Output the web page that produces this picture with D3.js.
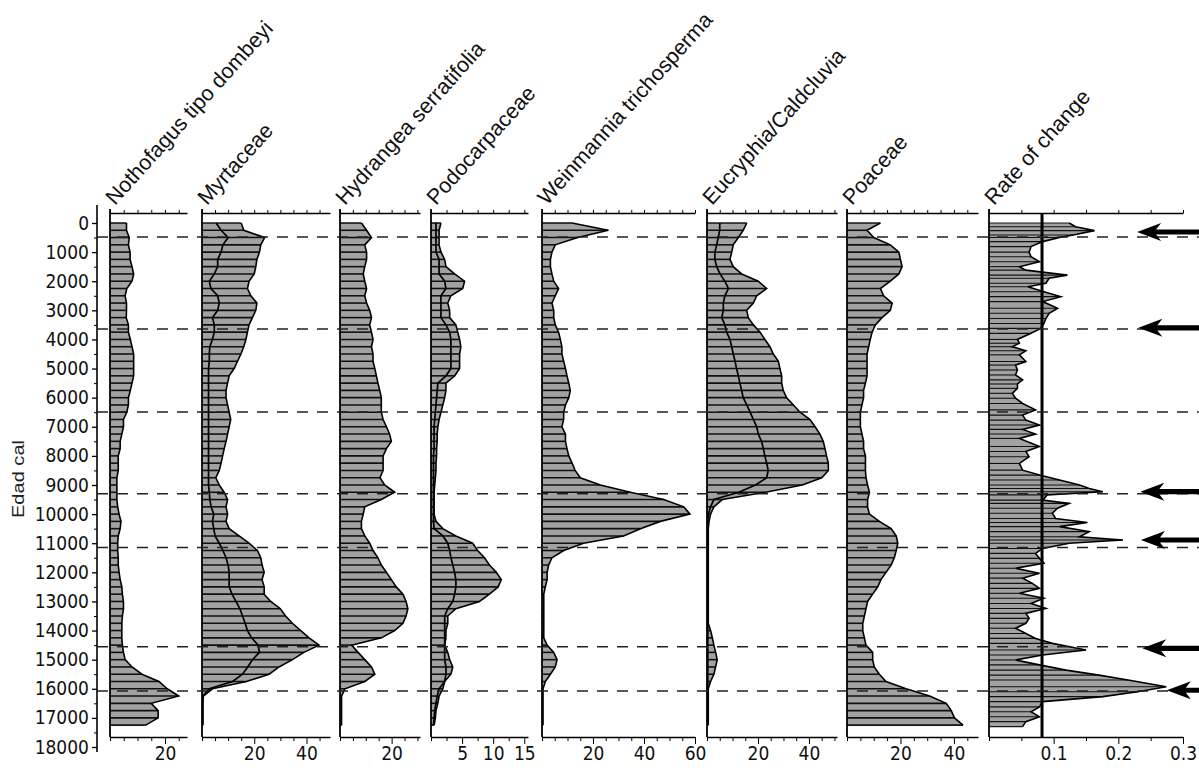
<!DOCTYPE html>
<html><head><meta charset="utf-8">
<script src="https://cdn.jsdelivr.net/npm/d3@7"></script>
<style>body{margin:0;background:#fff;} svg{display:block;background:#fff;}</style>
</head><body>
<svg id="c" width="1199" height="770"></svg>
<script>
// ---------------- DATA ----------------
const titles = ["Nothofagus tipo dombeyi","Myrtaceae","Hydrangea serratifolia","Podocarpaceae",
  "Weinmannia trichosperma","Eucryphia/Caldcluvia","Poaceae","Rate of change"];
const yAxisTitle = "Edad cal";
const yTicks = [0,1000,2000,3000,4000,5000,6000,7000,8000,9000,10000,11000,12000,13000,14000,15000,16000,17000,18000];

const ages = [0,250,500,750,1000,1250,1500,1750,2000,2250,
  2500,2750,3000,3250,3500,3750,4000,4250,4500,4750,
  5000,5250,5500,5750,6000,6250,6500,6750,7000,7250,
  7500,7750,8000,8250,8500,8750,9000,9250,9500,9750,
  10000,10250,10500,10750,11000,11250,11500,11750,12000,12250,
  12500,12750,13000,13250,13500,13750,14000,14250,14500,14750,
  15000,15250,15500,15750,16000,16250,16500,16750,17000,17250];

const nothofagus = [6,6,7,6.7,7.3,7.3,8,8.6,8,6.1,
  5.5,6,6,5.9,6.7,6.7,7.4,8,8.6,8.6,
  8.6,8.6,8,7.4,6.7,6.7,6.1,4.9,4.9,4.3,
  3.7,3.7,3,3,3,2.5,2.5,2.5,2.5,2.8,
  3.3,4,3.7,3,2.8,2.8,3,3,3.3,3.7,
  4.3,4.5,4.9,4.9,4.5,4.3,4.3,4.3,4.5,4.9,
  5.5,8,11.6,17.8,20.8,25,15,17.5,17.5,13];

const myrtaceae = [15,16,24,22.5,22,21,20.6,20,18,17.4,
  18.7,21,20.6,19.3,18,17.4,16.8,16,14.9,13.6,
  12.3,10.4,9.8,9.2,9.2,9.8,10.4,11,10.4,9.8,
  9.2,8.5,7.9,7.3,6.6,5.3,6.6,8.5,9.8,9.2,
  9.8,9.2,10.4,14.2,18,21.2,22.5,23,23.8,23,
  23.8,23.8,26.3,30,32,34.6,37.8,41,44.8,39,
  34.6,29.5,25.7,17,4,0.5,0.3,0.3,0.3,0.3];
const myrtaceaeLine = [5.4,7.3,10,8,7.3,6,6,4.7,2.8,3.4,
  6,6.6,6,4,4.7,4.7,4,3,2.8,2.8,
  2.5,2.5,2.5,2.5,2.5,2.5,2.5,2.5,2.5,2.5,
  2.5,2.5,2.5,2.5,2.5,2.5,2.5,2.8,3,3.5,
  4.5,4,4.5,5,6.6,8,9.2,10,10.4,10.4,
  10.4,11.5,13,14.5,15.5,16.5,17.4,19,21.5,22,
  19.3,17.5,15.5,11.7,2.8,0.3,0.3,0.3,0.3,0.3];

const hydrangea = [8.3,10.3,12.2,9.6,10.3,10.3,9.6,9,9.6,10.3,
  9.6,10.3,11.5,12.2,11.5,12.2,12.8,12.2,12.8,12.8,
  13.5,14.1,14.7,15.4,16,16,16,16.7,18,19.2,
  19.9,18,16.7,16.7,16.7,15.5,17.3,21.2,16,9.6,
  9,8.3,8.3,9.6,11.5,12.8,14.7,16,18,19.9,
  21.8,24.4,25.6,26.3,25.6,24.4,21.2,16,4.5,7,
  9.6,12.2,13.5,9.6,1.9,0.6,0.6,0.6,0.6,0.6];

const podocarpaceae = [1.6,1.3,1.3,1.3,1.6,2.2,2.4,3.8,5.4,5.1,
  3.2,2.7,3,3,4,4.3,4.6,4.8,4.6,4.6,
  4.6,3.8,2.4,2.4,2.2,1.9,1.6,1.3,1.1,1,
  1,0.9,0.9,0.8,0.8,0.7,0.6,0.5,0.5,0.5,
  0.5,0.8,1.9,4,6.7,7.5,8.6,9.4,10.5,11.3,
  10.8,9.4,7.8,4,2.7,2.7,2.4,2.4,2.2,2.7,
  3,3.5,3.2,2.2,1.9,1.3,1.1,0.8,0.7,0.5];
const podocarpaceaeLine = [0.8,0.8,0.8,0.8,0.8,1.3,1.3,1.3,2.2,2.4,
  1.6,1.6,1.6,1.6,2.4,3,3.2,3.2,3.2,3.2,
  3.2,2.4,1.1,1,0.9,0.8,0.7,0.6,0.5,0.5,
  0.5,0.5,0.4,0.4,0.4,0.4,0.4,0.4,0.4,0.4,
  0.4,0.4,0.5,1.9,2.7,3,3.2,3.5,3.8,4,
  4,3.8,3.5,2.7,2.2,2.2,2.2,2.2,2.2,2.2,
  2.2,2.4,2.4,2.2,1.3,1,0.8,0.6,0.5,0.4];

const weinmannia = [11.8,26,14,5.2,3.9,3.3,3.3,3.9,4.6,6.5,
  5.2,3.9,4.6,4.6,5.2,6.5,7.2,7.8,7.8,8.5,
  9.2,9.8,10.5,11.1,10.5,9.2,8.5,8.5,7.8,9.2,
  9.2,9.8,10.5,11.8,13,15,22.9,34.6,47.7,55.6,
  58,46.4,38.6,32,16.3,8.5,3.9,2.6,2,2,
  1.3,0.7,0.7,0.7,0.7,0.7,0.7,0.7,2,4.6,
  5.9,5.2,3.3,1.3,0.4,0.4,0.4,0.4,0.4,0.4];

const eucryphia = [15.6,14.2,12.3,10.3,9.7,9,10.3,13.6,20.1,23.4,
  19.5,18.2,15.6,16.2,18.2,20.8,22.7,24.7,26,28,
  28.6,29.3,29.3,29.9,31.2,33.9,36.5,40.4,42.4,44.3,
  45.6,46.3,46.9,47.6,47.6,45,37.4,23,6,2.7,
  1.4,0.8,0.5,0.5,0.5,0.5,0.5,0.5,0.5,0.5,
  0.5,0.5,0.5,0.5,0.5,0.5,1.4,2.1,2.7,3.4,
  4,3.4,2.7,1.4,0.5,0.5,0.5,0.5,0.5,0.5];
const eucryphiaLine = [5,5,4.4,3.8,3.1,3.1,3.8,5.1,7,8.4,
  7,6.4,6.4,5.8,7,7.7,9,9.7,10.3,11,
  11.6,12.3,12.9,13.6,14.2,15.6,16.9,18.2,19.5,20.1,
  21.4,22.1,22.7,23.4,24,23.4,19,12.5,2.7,1.4,
  0.5,0.3,0.3,0.3,0.3,0.3,0.3,0.3,0.3,0.3,
  0.3,0.3,0.3,0.3,0.3,0.3,0.3,0.3,0.3,0.3,
  0.3,0.3,0.3,0.3,0.3,0.3,0.3,0.3,0.3,0.3];

const poaceae = [12.5,7.5,10,16.2,19.4,20,20.6,19.4,16.2,12.5,
  13.7,16.9,16.2,13.1,10.6,9.4,8.7,8.1,7.5,7.5,
  7.5,7.5,6.9,6.2,6.2,5.6,5,5,5,5.6,
  6.2,6.2,6.9,6.9,6.9,7.1,7.7,8.4,7.7,7.7,
  8.4,12.1,16.5,18.4,19,18.4,17.7,16.5,14.6,12.7,
  11.5,9.6,7.7,7.1,6.5,5.9,5.9,6.5,7.1,9.6,
  9.6,10.2,12.1,14.6,22.1,30.9,37.1,39,40.2,43.4];

const rocAges = [0,130,263,410,500,640,810,1000,1160,1330,1500,1620,1790,1900,2070,2190,2360,2530,2700,2930,
  3100,3280,3450,3620,3790,4000,4130,4250,4390,4530,4760,4880,5050,5220,5390,5530,5680,5850,6020,6200,
  6420,6600,6770,6940,7090,7250,7400,7680,7850,8030,8260,8490,8660,8830,9000,9120,9230,9340,9520,9630,
  9800,9970,10150,10290,10430,10600,10780,10890,11000,11180,11350,11520,11690,11860,12030,12200,12380,12550,12720,12890,
  13070,13240,13410,13580,13750,13920,14100,14270,14440,14670,14840,15010,15180,15360,15530,15700,15930,16100,16270,16440,
  16620,16790,16960,17130,17300];
const rocValues = [0.124,0.134,0.163,0.13,0.109,0.083,0.065,0.062,0.065,0.078,0.047,0.057,0.121,0.093,0.088,0.060,0.085,0.111,0.083,0.106,
  0.093,0.088,0.085,0.080,0.065,0.044,0.047,0.036,0.057,0.047,0.057,0.041,0.044,0.041,0.052,0.044,0.044,0.036,0.041,0.052,
  0.072,0.052,0.057,0.078,0.052,0.072,0.047,0.078,0.057,0.062,0.047,0.052,0.078,0.109,0.140,0.155,0.176,0.090,0.083,0.124,
  0.106,0.098,0.103,0.152,0.109,0.155,0.140,0.207,0.124,0.083,0.072,0.078,0.085,0.041,0.078,0.052,0.067,0.078,0.047,0.085,
  0.065,0.088,0.057,0.062,0.057,0.041,0.057,0.072,0.098,0.150,0.083,0.041,0.078,0.119,0.170,0.215,0.274,0.230,0.176,0.083,
  0.078,0.065,0.078,0.057,0.052];
const rocThreshold = 0.082;

const zoneAges = [480,3640,6490,9300,11150,14560,16080];
const arrowAges = [310,3600,9230,10890,14610,16050];
const arrowTips = [0.229,0.231,0.234,0.235,0.237,0.275];

const bottomLabels = [[20],[20,40],[20],[5,10,15],[20,40,60],[20,40],[20,40],[0.1,0.2,0.3]];

// ---------------- LAYOUT ----------------
const svg = d3.select("#c");
const TOP = 213, BOT = 737;
const y = d3.scaleLinear().domain([0,18000]).range([223,747]);
const NARROW = "'Liberation Sans Narrow','DejaVu Sans Condensed','Liberation Sans',sans-serif";
const SANS = "'Liberation Sans','DejaVu Sans',sans-serif";

const panels = [
  {vals:nothofagus, line:null, x0:110, w:77, max:28, step:5},
  {vals:myrtaceae, line:myrtaceaeLine, x0:202, w:128, max:49, step:5},
  {vals:hydrangea, line:null, x0:340, w:80, max:31, step:5},
  {vals:podocarpaceae, line:podocarpaceaeLine, x0:431, w:97, max:15.6, step:2.5},
  {vals:weinmannia, line:null, x0:542, w:153, max:60, step:5},
  {vals:eucryphia, line:eucryphiaLine, x0:707, w:130, max:51, step:5},
  {vals:poaceae, line:null, x0:847, w:131, max:49, step:5},
  {vals:rocValues, ages:rocAges, line:null, x0:989, w:194, max:0.3, step:0.05, roc:true}
];

// Y axis
const ya = svg.append("g");
ya.append("line").attr("x1",97).attr("x2",97).attr("y1",205).attr("y2",752)
  .attr("stroke","#000").attr("stroke-width",1.6);
const yAx = d3.axisLeft(y).tickValues(yTicks).tickSize(5).tickFormat(d=>String(d));
const yg = ya.append("g").attr("transform","translate(97,0)").call(yAx);
yg.select(".domain").remove();
yg.selectAll(".tick line").attr("stroke","#000").attr("stroke-width",1.3);
yg.selectAll(".tick text").attr("x",-8).attr("font-family",NARROW).attr("font-size",19).attr("fill","#111");
const yMinor = d3.axisLeft(y).tickValues(yTicks.slice(0,-1).map(t=>t+500)).tickSize(3).tickFormat("");
const ym = ya.append("g").attr("transform","translate(97,0)").call(yMinor);
ym.select(".domain").remove();
ym.selectAll(".tick line").attr("stroke","#000");

svg.append("text").attr("transform","translate(24,479) rotate(-90)")
  .attr("text-anchor","middle").attr("font-family",SANS).attr("font-size",17)
  .attr("textLength",78).attr("lengthAdjust","spacingAndGlyphs").attr("fill","#222").text(yAxisTitle);

// Panels
panels.forEach((p,i)=>{
  const g = svg.append("g");
  const x = d3.scaleLinear().domain([0,p.max]).range([p.x0,p.x0+p.w]);
  const ag = p.ages || ages;
  const data = ag.map((a,k)=>({a:a, v:p.vals[k]}));
  const area = d3.area().y(d=>y(d.a)).x0(p.x0).x1(d=>x(d.v));
  g.append("path").datum(data).attr("d",area).attr("fill","#a2a2a2");
  g.selectAll("line.bar").data(data).enter().append("line").attr("class","bar")
    .attr("x1",p.x0).attr("x2",d=>x(d.v)).attr("y1",d=>y(d.a)).attr("y2",d=>y(d.a))
    .attr("stroke","#000").attr("stroke-width",p.roc?1.1:1.6).attr("stroke-opacity",0.9);
  const ln = d3.line().y(d=>y(d.a)).x(d=>x(d.v));
  g.append("path").datum(data).attr("d",ln).attr("fill","none").attr("stroke","#000").attr("stroke-width",1.6);
  if (p.line) {
    const d2 = ag.map((a,k)=>({a:a, v:p.line[k]}));
    g.append("path").datum(d2).attr("d",ln).attr("fill","none").attr("stroke","#000").attr("stroke-width",1.7);
  }
  // baseline
  g.append("line").attr("x1",p.x0).attr("x2",p.x0).attr("y1",TOP-4).attr("y2",BOT)
    .attr("stroke","#000").attr("stroke-width",1.8);
  const minor = d3.range(0, p.max + 1e-9, p.step);
  // top axis
  const tg = g.append("g").attr("transform",`translate(0,${TOP})`)
    .call(d3.axisTop(x).tickValues(minor).tickSize(3).tickSizeOuter(0).tickFormat(""));
  tg.select(".domain").attr("stroke","#000").attr("stroke-width",1.6);
  tg.selectAll(".tick line").attr("stroke","#000");
  // bottom axis
  const labs = bottomLabels[i];
  const bg = g.append("g").attr("transform",`translate(0,${BOT})`)
    .call(d3.axisBottom(x).tickValues(minor).tickSize(4).tickSizeOuter(0)
      .tickFormat(d=> labs.some(l=>Math.abs(l-d)<1e-9) ? (p.roc? d3.format(".1f")(d) : String(Math.round(d))) : ""));
  bg.select(".domain").attr("stroke","#000").attr("stroke-width",1.6);
  bg.selectAll(".tick line").attr("stroke","#000")
    .attr("y2", d=> labs.some(l=>Math.abs(l-d)<1e-9) ? 7 : 4);
  bg.selectAll(".tick text").attr("font-family",NARROW).attr("font-size",19).attr("fill","#111").attr("y",10);
  // title
  g.append("text").attr("transform",`translate(${p.x0+5},206) rotate(-48)`)
    .attr("font-family",SANS).attr("font-size",21.5).attr("fill","#111")
    .text(titles[i]);
  if (p.roc) {
    g.append("line").attr("x1",x(rocThreshold)).attr("x2",x(rocThreshold)).attr("y1",TOP).attr("y2",BOT)
      .attr("stroke","#000").attr("stroke-width",3);
    p.xs = x;
  }
});

// zone dashed lines
svg.append("g").selectAll("line").data(zoneAges).enter().append("line")
  .attr("x1",97).attr("x2",1199).attr("y1",d=>y(d)).attr("y2",d=>y(d))
  .attr("stroke","#222").attr("stroke-width",1.5).attr("stroke-dasharray","11,9");

// arrows
const rx = panels[7].xs;
svg.append("g").selectAll("path").data(arrowAges.map((a,i)=>({a:a,t:arrowTips[i]}))).enter().append("path")
  .attr("d", d=>{
    const xt = rx(d.t), yy = y(d.a);
    return `M${xt},${yy} L${xt+24},${yy-9} L${xt+19},${yy-2.6} L1199,${yy-2.6} L1199,${yy+2.6} L${xt+19},${yy+2.6} L${xt+24},${yy+9} Z`;
  }).attr("fill","#000");
</script>
</body></html>
